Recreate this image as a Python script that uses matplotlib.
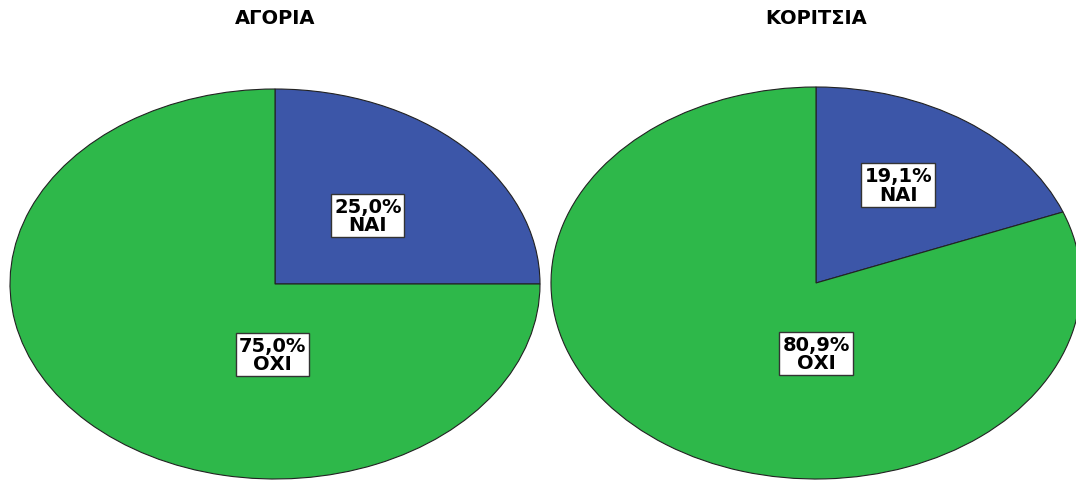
import matplotlib
matplotlib.use("Agg")
import matplotlib.pyplot as plt

plt.rcParams['font.family'] = ['DejaVu Sans']

# data
groups = ['ΑΓΟΡΙΑ', 'ΚΟΡΙΤΣΙΑ']
categories = ['ΝΑΙ', 'ΟΧΙ']
shares = [[25.0, 75.0], [19.1, 80.9]]
colors = ['#3c56a8', '#2eb84a']

# label anchor positions in pie units (x, y) for each group
label_pos = [
    [(0.35, 0.35), (-0.01, -0.36)],
    [(0.31, 0.50), (0.0, -0.36)],
]

fig = plt.figure(figsize=(10.76, 4.81), dpi=100)
W, H = 1076, 481
# ellipse boxes in pixels: left, top, width, height
boxes = [(10, 90, 530, 390), (551, 88, 530, 392)]

for i, grp in enumerate(groups):
    l, t, w, h = boxes[i]
    ax = fig.add_axes([l / W, (H - t - h) / H, w / W, h / H])
    ax.pie(shares[i], colors=colors, startangle=90, counterclock=False,
           radius=1, wedgeprops=dict(edgecolor='#222222', linewidth=0.8))
    ax.set_aspect('auto')
    ax.set_xlim(-1.0, 1.0)
    ax.set_ylim(-1.0, 1.0)
    ax.axis('off')
    for j, cat in enumerate(categories):
        x, y = label_pos[i][j]
        txt = f"{shares[i][j]:.1f}".replace('.', ',') + "%\n" + cat
        ax.text(x, y, txt, ha='center', va='center', fontsize=14,
                fontweight='bold', linespacing=0.95,
                bbox=dict(boxstyle='square,pad=0.15', facecolor='white',
                          edgecolor='#333333', linewidth=1.0))
    cx = (l + w / 2) / W
    fig.text(cx, 1 - 18 / H, grp, ha='center', va='center', fontsize=14,
             fontweight='bold')

fig.savefig('out.png', dpi=100)
